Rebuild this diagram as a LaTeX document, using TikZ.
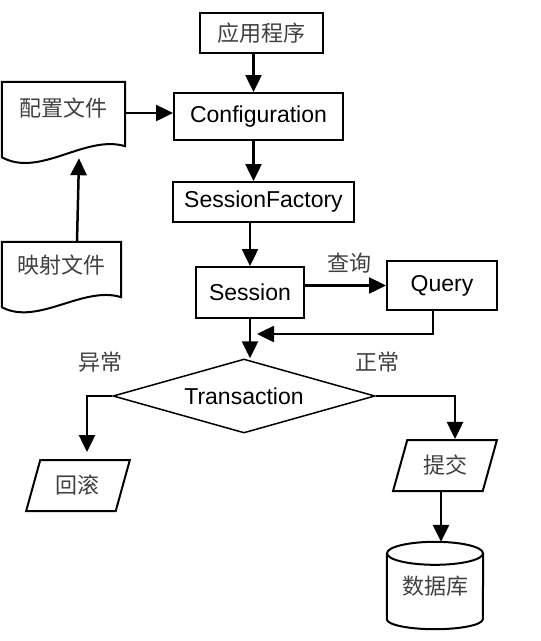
\documentclass[tikz,border=0pt]{standalone}
\usepackage{fontspec}
\setmainfont{Liberation Sans}
\newfontfamily\cjk{Noto Sans CJK SC}
\usetikzlibrary{arrows.meta,shapes.geometric}
\begin{document}
\begin{tikzpicture}[x=1pt,y=1pt,>={Triangle[length=17pt,width=16pt]},
	hop/.style={draw,line width=2pt,inner sep=0pt,font=\fontsize{23}{27}\selectfont},
	chu/.style={inner sep=0pt,font=\fontsize{22}{26}\selectfont\cjk,text=black!75},
	mt/.style={->,line width=2.5pt}]
		\useasboundingbox (0,0) rectangle (541,-641);
		% Các hộp chính
		\node[hop,chu,minimum width=123,minimum height=40] (app) at (261.5,-33) {应用程序};
		\node[hop,minimum width=169,minimum height=47] (cf) at (258.5,-116.5) {Configuration};
		\node[hop,minimum width=181,minimum height=40] (sf) at (263.5,-202) {SessionFactory};
		\node[hop,minimum width=108,minimum height=51] (ses) at (250,-292.5) {Session};
		\node[hop,minimum width=110,minimum height=49] (q) at (442,-285.5) {Query};
		\node[hop,diamond,aspect=3.5,line width=1.5pt,minimum width=262,minimum height=74] (tr) at (244,-396) {Transaction};
		\node[hop,chu,trapezium,trapezium left angle=68,trapezium right angle=112,trapezium stretches=true,minimum width=104,minimum height=51] (hg) at (78,-485.5) {回滚};
		\node[hop,chu,trapezium,trapezium left angle=68,trapezium right angle=112,trapezium stretches=true,minimum width=104,minimum height=51] (tj) at (445,-465.5) {提交};
		% Cơ sở dữ liệu (hình trụ)
		\node[chu,minimum width=96,minimum height=88] (db) at (435,-586) {数据库};
		\draw[line width=2pt] ([yshift=-11.5pt]db.north west) -- ([yshift=11pt]db.south west) arc[start angle=180,end angle=360,x radius=48,y radius=10] -- ([yshift=-11.5pt]db.north east);
		\draw[line width=2pt] ([yshift=-11.5pt]db.north) ellipse[x radius=48,y radius=11.5];
		% Hai tệp tài liệu
		\node[chu,minimum width=123,minimum height=52] (pz) at (63.5,-108) {配置文件};
		\draw[line width=2pt] (pz.south west) -- (pz.north west) -- (pz.north east) -- ([yshift=-12pt]pz.south east) .. controls +(-40,12) and +(38,-21) .. ([yshift=-23pt]pz.south west) -- cycle;
		\node[chu,minimum width=119,minimum height=46] (ys) at (61.5,-265) {映射文件};
		\draw[line width=2pt] (ys.south west) -- (ys.north west) -- (ys.north east) -- ([yshift=-9pt]ys.south east) .. controls +(-38,12) and +(36,-19) .. ([yshift=-19pt]ys.south west) -- cycle;
		% Nhãn
		\node[chu] (cx) at (349,-263) {查询};
		\node[chu] (yc) at (100,-362) {异常};
		\node[chu] (zc) at (377,-362) {正常};
		% Mũi tên
		\draw[mt] ([xshift=-8pt]app.south) -- ([xshift=-8pt]app.south |- cf.north);
		\draw[mt] ([yshift=-5pt]pz.east) -- ([yshift=-5pt]pz.east -| cf.west);
		\draw[mt] ([xshift=15.5pt]ys.north) -- ([xshift=15.5pt,yshift=-24pt]pz.south);
		\draw[mt] ([xshift=-5pt]cf.south) -- ([xshift=-5pt]cf.south |- sf.north);
		\draw[mt] (sf.south -| ses.north) -- (ses.north);
		\draw[mt] (ses.east |- q.west) -- (q.west);
		\draw[mt] ([xshift=-9pt]q.south) |- ([xshift=7pt,yshift=-15pt]ses.south);
		\draw[mt] (ses.south) -- (ses.south |- tr.north);
		\draw[mt] (tr.west) -| ([xshift=9pt,yshift=7pt]hg.north);
		\draw[mt] (tr.east) -| ([xshift=10pt]tj.north);
		\draw[mt] ([xshift=-4pt]tj.south) -- ([xshift=-4pt]tj.south |- db.north);
\end{tikzpicture}
\end{document}
